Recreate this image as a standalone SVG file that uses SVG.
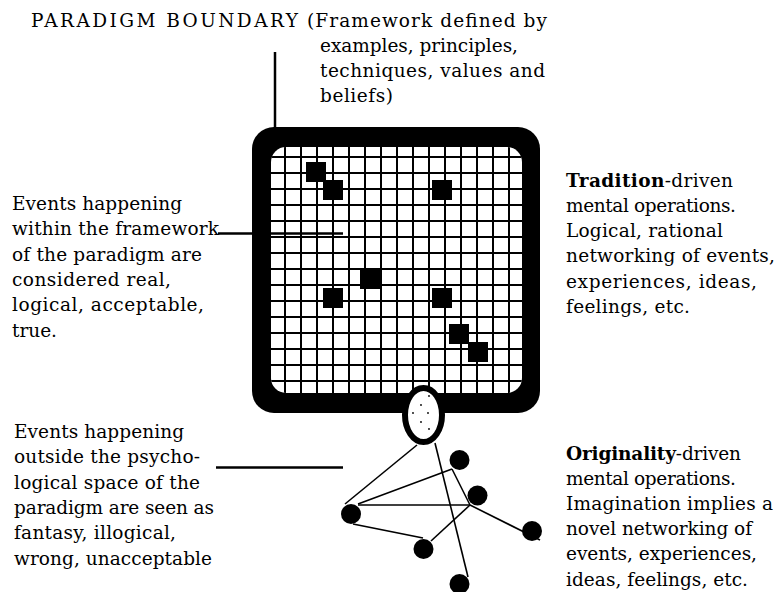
<svg xmlns="http://www.w3.org/2000/svg" width="776" height="592" viewBox="0 0 776 592">
<defs>
<style>
text{font-family:"DejaVu Serif","Liberation Serif",serif;font-size:18.5px;fill:#000}
.b{font-weight:bold}
.grid line{stroke:#000;stroke-width:2}
.sq{fill:#000}
.edge{stroke:#000;stroke-width:1.6;fill:none}
.node{fill:#000}
.lead{stroke:#000;stroke-width:2.5}
.dot{fill:#000}
</style>
<clipPath id="inner"><rect x="271" y="147" width="251" height="246" rx="15"/></clipPath>
</defs>
<rect width="776" height="592" fill="#fff"/>

<g id="title">
<text x="31" y="27" textLength="267" lengthAdjust="spacing">PARADIGM  BOUNDARY</text>
</g>
<g id="framework-note">
<text x="307" y="27" textLength="240" lengthAdjust="spacing">(Framework defined by</text>
<text x="320" y="52" textLength="198" lengthAdjust="spacing">examples, principles,</text>
<text x="320" y="77" textLength="225" lengthAdjust="spacing">techniques, values and</text>
<text x="320" y="101.5" textLength="73" lengthAdjust="spacing">beliefs)</text>
</g>

<g id="within-note">
<text x="12" y="210" textLength="170" lengthAdjust="spacing">Events happening</text>
<text x="12" y="235" textLength="207" lengthAdjust="spacing">within the framework</text>
<text x="12" y="260.6" textLength="190" lengthAdjust="spacing">of the paradigm are</text>
<text x="12" y="285.9" textLength="159" lengthAdjust="spacing">considered real,</text>
<text x="12" y="311.2" textLength="192" lengthAdjust="spacing">logical, acceptable,</text>
<text x="12" y="336.5" textLength="45" lengthAdjust="spacing">true.</text>
</g>

<g id="outside-note">
<text x="14" y="438" textLength="170" lengthAdjust="spacing">Events happening</text>
<text x="14" y="463.3" textLength="186" lengthAdjust="spacing">outside the psycho-</text>
<text x="14" y="488.6" textLength="186" lengthAdjust="spacing">logical space of the</text>
<text x="14" y="513.9" textLength="200" lengthAdjust="spacing">paradigm are seen as</text>
<text x="14" y="539.2" textLength="162" lengthAdjust="spacing">fantasy, illogical,</text>
<text x="14" y="564.5" textLength="198" lengthAdjust="spacing">wrong, unacceptable</text>
</g>

<g id="tradition-note">
<text x="566" y="186.5" textLength="167" lengthAdjust="spacing"><tspan class="b">Tradition</tspan>-driven</text>
<text x="566" y="211.8" textLength="170" lengthAdjust="spacing">mental operations.</text>
<text x="566" y="237.1" textLength="157" lengthAdjust="spacing">Logical, rational</text>
<text x="566" y="262.4" textLength="209" lengthAdjust="spacing">networking of events,</text>
<text x="566" y="287.7" textLength="191" lengthAdjust="spacing">experiences, ideas,</text>
<text x="566" y="313" textLength="124" lengthAdjust="spacing">feelings, etc.</text>
</g>

<g id="originality-note">
<text x="566" y="459.5" textLength="175" lengthAdjust="spacing"><tspan class="b">Originality</tspan>-driven</text>
<text x="566" y="484.7" textLength="170" lengthAdjust="spacing">mental operations.</text>
<text x="566" y="509.9" textLength="207" lengthAdjust="spacing">Imagination implies a</text>
<text x="566" y="535.1" textLength="186" lengthAdjust="spacing">novel networking of</text>
<text x="566" y="560.3" textLength="191" lengthAdjust="spacing">events, experiences,</text>
<text x="566" y="585.5" textLength="182" lengthAdjust="spacing">ideas, feelings, etc.</text>
</g>

<g id="paradigm-box">
<rect x="252" y="127" width="288" height="286" rx="22" fill="#000"/>
<rect x="271" y="147" width="251" height="246" rx="15" fill="#fff"/>
<g class="grid" clip-path="url(#inner)">
<line x1="285" y1="140" x2="285" y2="400"/><line x1="301" y1="140" x2="301" y2="400"/><line x1="317" y1="140" x2="317" y2="400"/><line x1="333" y1="140" x2="333" y2="400"/><line x1="349" y1="140" x2="349" y2="400"/><line x1="365" y1="140" x2="365" y2="400"/><line x1="381" y1="140" x2="381" y2="400"/><line x1="397" y1="140" x2="397" y2="400"/><line x1="413" y1="140" x2="413" y2="400"/><line x1="429" y1="140" x2="429" y2="400"/><line x1="445" y1="140" x2="445" y2="400"/><line x1="461" y1="140" x2="461" y2="400"/><line x1="477" y1="140" x2="477" y2="400"/><line x1="493" y1="140" x2="493" y2="400"/><line x1="509" y1="140" x2="509" y2="400"/>
<line x1="260" y1="157" x2="530" y2="157"/><line x1="260" y1="173" x2="530" y2="173"/><line x1="260" y1="189" x2="530" y2="189"/><line x1="260" y1="205" x2="530" y2="205"/><line x1="260" y1="221" x2="530" y2="221"/><line x1="260" y1="237" x2="530" y2="237"/><line x1="260" y1="253" x2="530" y2="253"/><line x1="260" y1="269" x2="530" y2="269"/><line x1="260" y1="285" x2="530" y2="285"/><line x1="260" y1="301" x2="530" y2="301"/><line x1="260" y1="317" x2="530" y2="317"/><line x1="260" y1="333" x2="530" y2="333"/><line x1="260" y1="349" x2="530" y2="349"/><line x1="260" y1="365" x2="530" y2="365"/><line x1="260" y1="381" x2="530" y2="381"/>
</g>
<g id="events-inside">
<rect class="sq" x="306" y="162" width="20" height="20"/>
<rect class="sq" x="323" y="180" width="20" height="20"/>
<rect class="sq" x="432" y="180" width="20" height="20"/>
<rect class="sq" x="360" y="269" width="20" height="20"/>
<rect class="sq" x="323" y="288" width="20" height="20"/>
<rect class="sq" x="432" y="288" width="20" height="20"/>
<rect class="sq" x="449" y="324" width="20" height="20"/>
<rect class="sq" x="468" y="342" width="20" height="20"/>
</g>
</g>

<g id="opening">
<ellipse cx="423.5" cy="415" rx="18.5" ry="27" fill="#fff" stroke="#000" stroke-width="6"/>
<circle class="dot" cx="429" cy="396" r="0.9"/>
<circle class="dot" cx="421" cy="405" r="0.9"/>
<circle class="dot" cx="413" cy="413" r="0.9"/>
<circle class="dot" cx="428" cy="413" r="0.9"/>
<circle class="dot" cx="421" cy="422" r="0.9"/>
<circle class="dot" cx="429" cy="429" r="0.9"/>
</g>

<g id="connectors">
<line class="lead" x1="275" y1="52" x2="275" y2="128"/>
<line class="lead" x1="218" y1="233.5" x2="343" y2="233.5"/>
<line class="lead" x1="216" y1="467.5" x2="343" y2="467.5"/>
<line class="edge" x1="417" y1="445" x2="345" y2="504"/>
<line class="edge" x1="435" y1="443" x2="468" y2="577"/>
<line class="edge" x1="358" y1="504" x2="452" y2="469"/>
<line class="edge" x1="358" y1="505" x2="470" y2="505"/>
<line class="edge" x1="353" y1="524" x2="423" y2="538"/>
<line class="edge" x1="431" y1="541" x2="470" y2="505"/>
<line class="edge" x1="452" y1="469" x2="470" y2="505"/>
<line class="edge" x1="470" y1="505" x2="540" y2="540"/>
</g>

<g id="idea-n1"><circle class="node" cx="459.5" cy="460" r="10"/></g>
<g id="idea-n2"><circle class="node" cx="477.5" cy="495.5" r="10"/></g>
<g id="idea-n3"><circle class="node" cx="351" cy="514" r="10"/></g>
<g id="idea-n4"><circle class="node" cx="423.5" cy="549" r="10"/></g>
<g id="idea-n5"><circle class="node" cx="532" cy="531" r="10"/></g>
<g id="idea-n6"><circle class="node" cx="459.5" cy="584" r="10"/></g>
</svg>
